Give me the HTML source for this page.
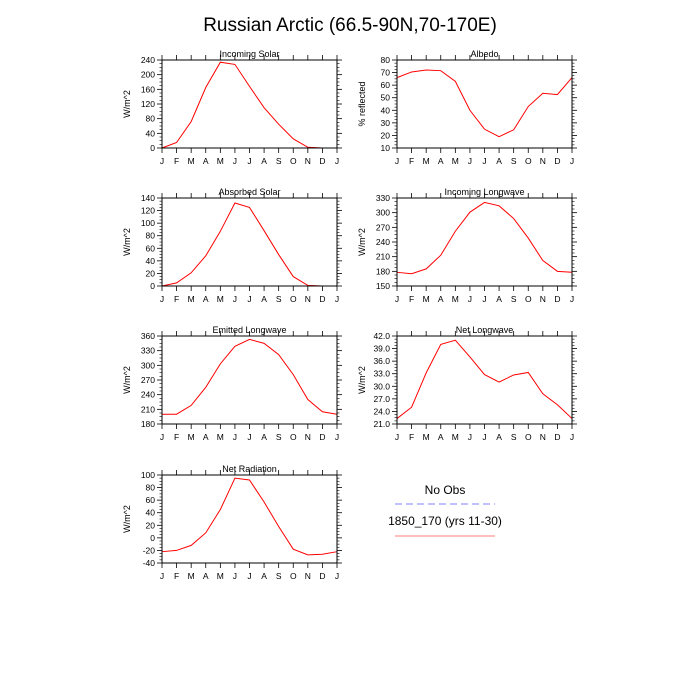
<!DOCTYPE html>
<html><head><meta charset="utf-8"><style>
body{margin:0;background:#fff;}
svg{display:block;font-family:"Liberation Sans",sans-serif;}
</style></head><body>
<svg id="c" width="700" height="700" viewBox="0 0 700 700">
<text x="350" y="31" text-anchor="middle" font-size="19">Russian Arctic (66.5-90N,70-170E)</text>
<g>
<text x="445" y="494" text-anchor="middle" font-size="12">No Obs</text>
<line x1="395" y1="504" x2="495" y2="504" stroke="#8080ff" stroke-dasharray="7,4"/>
<text x="445" y="525" text-anchor="middle" font-size="12">1850_170 (yrs 11-30)</text>
<line x1="395" y1="536" x2="495" y2="536" stroke="#ff7f7f"/>
</g>
</svg>
<script>
const months=["J","F","M","A","M","J","J","A","S","O","N","D","J"];
const incomingSolar=[0,15,72,165,234,228,168,110,65,25,2,0,0];
const albedo=[66,70.5,72,71.5,63,40,25,19,24.5,43,53.5,52.5,66];
const absorbedSolar=[0,5,21,48,87,132,125,88,50,15,1,0,0];
const incomingLW=[178,175,185,213,262,301,321,314,288,248,202,180,178];
const emittedLW=[200,200,218,255,303,339,353,345,322,281,230,205,200];
const netLW=[22.3,25,33.2,40,41,37,32.8,31,32.7,33.3,28.2,25.6,22.3];
const netRad=[-22,-20,-12,8,45,95,92,57,18,-18,-27,-26,-22];
const panels=[
 {t:"Incoming Solar",yl:"W/m^2",d:incomingSolar,min:0,max:240,step:40,dec:0,x:162,y:60},
 {t:"Albedo",yl:"% reflected",d:albedo,min:10,max:80,step:10,dec:0,x:397,y:60},
 {t:"Absorbed Solar",yl:"W/m^2",d:absorbedSolar,min:0,max:140,step:20,dec:0,x:162,y:198},
 {t:"Incoming Longwave",yl:"W/m^2",d:incomingLW,min:150,max:330,step:30,dec:0,x:397,y:198},
 {t:"Emitted Longwave",yl:"W/m^2",d:emittedLW,min:180,max:360,step:30,dec:0,x:162,y:336},
 {t:"Net Longwave",yl:"W/m^2",d:netLW,min:21,max:42,step:3,dec:1,x:397,y:336},
 {t:"Net Radiation",yl:"W/m^2",d:netRad,min:-40,max:100,step:20,dec:0,x:162,y:475}
];
const W=175,H=88,NS="http://www.w3.org/2000/svg",svg=document.getElementById('c');
function el(tag,a,p){const e=document.createElementNS(NS,tag);for(const k in a)e.setAttribute(k,a[k]);(p||svg).appendChild(e);return e;}
panels.forEach((p,i)=>{
 const g=el('g',{});
 
 
 const xs=j=>p.x+j*W/12, ys=v=>p.y+H-(v-p.min)/(p.max-p.min)*H;
 const ti=el('text',{x:p.x+W/2,y:p.y-3,'text-anchor':'middle','font-size':9},g);ti.textContent=p.t;
 
 
 months.forEach((m,j)=>{
  const x=xs(j);
  el('line',{x1:x,y1:p.y,x2:x,y2:p.y-5,stroke:'#000','stroke-width':0.8},g);
  el('line',{x1:x,y1:p.y+H,x2:x,y2:p.y+H+5,stroke:'#000','stroke-width':0.8},g);
  const t=el('text',{x:x,y:p.y+H+16,'text-anchor':'middle','font-size':8.5},g);t.textContent=m;
  
  
 });
 const n=Math.round((p.max-p.min)/p.step);
 for(let k=0;k<=n;k++){
  const v=p.min+k*p.step,y=ys(v);
  el('line',{x1:p.x,y1:y,x2:p.x-5,y2:y,stroke:'#000','stroke-width':0.8},g);
  el('line',{x1:p.x+W,y1:y,x2:p.x+W+5,y2:y,stroke:'#000','stroke-width':0.8},g);
  const t=el('text',{x:p.x-7,y:y+3,'text-anchor':'end','font-size':8.5},g);t.textContent=v.toFixed(p.dec);
  
  
  if(k<n)for(let s=1;s<4;s++){const yy=ys(v+s*p.step/4);
   el('line',{x1:p.x,y1:yy,x2:p.x-2.5,y2:yy,stroke:'#000','stroke-width':0.6},g);
   el('line',{x1:p.x+W,y1:yy,x2:p.x+W+2.5,y2:yy,stroke:'#000','stroke-width':0.6},g);}
 }
 const yl=el('text',{x:0,y:0,'text-anchor':'middle','font-size':9,transform:`translate(${p.x-32},${p.y+H/2}) rotate(-90)`},g);yl.textContent=p.yl;
 
 
 const ln=el('polyline',{points:p.d.map((v,j)=>xs(j)+','+ys(v)).join(' '),fill:'none',stroke:'#ff0000','stroke-width':1},g);
 
 
 const fr=el('rect',{x:p.x,y:p.y,width:W,height:H,fill:'none',stroke:'#000','stroke-width':1},g);
 
 
});
</script>
</body></html>
